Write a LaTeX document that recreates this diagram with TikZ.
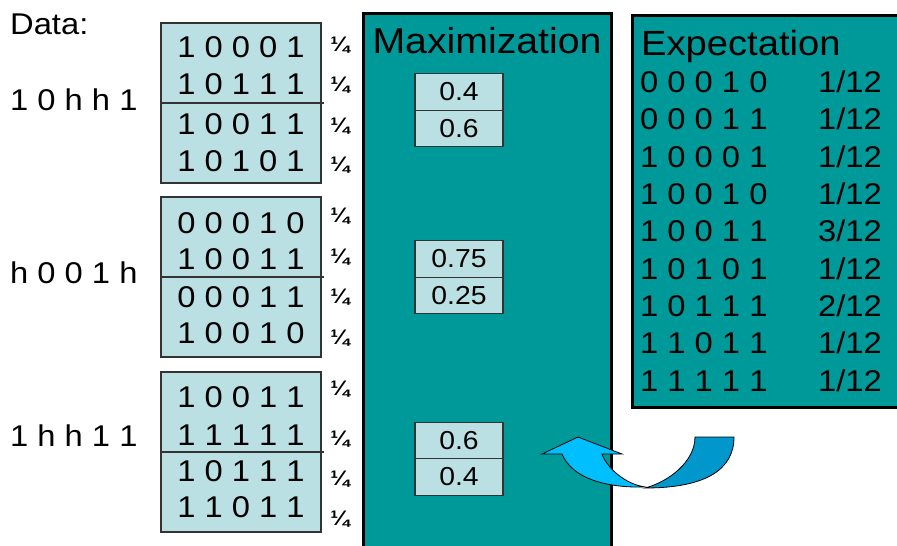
\documentclass[tikz,border=0pt]{standalone}
\usepackage{fontspec}
\setmainfont{Liberation Sans}[FakeStretch=1.09]
\usepackage{tikz}
\usepackage{xcolor}

\definecolor{panelteal}{HTML}{009999}
\definecolor{cellblue}{HTML}{BBE0E3}
\definecolor{arrowlight}{HTML}{00BFFF}
\definecolor{arrowdark}{HTML}{0097CC}

\tikzset{
  databox/.style={rectangle, draw=black!80, line width=1.2pt, fill=cellblue,
    minimum width=160pt, minimum height=160pt, inner sep=0pt},
  probcell/.style={rectangle, draw=black!80, line width=1.2pt, fill=cellblue,
    minimum width=88pt, minimum height=36.5pt, inner sep=0pt,
    font=\fontsize{26}{28}\selectfont},
  row/.style={inner sep=0pt, font=\fontsize{30}{32}\selectfont},
  quarter/.style={inner sep=0pt, font=\fontsize{21}{22}\selectfont\bfseries},
  label/.style={inner sep=0pt, anchor=west, font=\fontsize{30}{32}\selectfont},
  title/.style={inner sep=0pt, anchor=base, font=\fontsize{36}{38}\selectfont},
  expect/.style={inner sep=0pt, font=\fontsize{30}{32}\selectfont},
  panel/.style={draw=black, line width=3pt, fill=panelteal},
}

\begin{document}
\begin{tikzpicture}[x=1pt, y=-1pt]
  \clip (0,0) rectangle (897,546);

  % data and completions
  \node[label] (data) at (10,24) {Data:};
  \node[label] (d1) at (10,100) {1 0 h h 1};
  \node[label] (d2) at (10,273) {h 0 0 1 h};
  \node[label] (d3) at (10,436) {1 h h 1 1};

  \node[databox] (box1) at (241,103) {};
  \node[databox] (box2) at (241,277) {};
  \node[databox] (box3) at (241,452) {};
  \draw[line width=1.2pt, black!80] (box1.west) -- ([xshift=2pt]box1.east);
  \draw[line width=1.2pt, black!80] (box2.west) -- ([xshift=2pt]box2.east);
  \draw[line width=1.2pt, black!80] (box3.west) -- ([xshift=2pt]box3.east);

  \node[row] (r11) at (241,47.5)  {1 0 0 0 1};
  \node[row] (r12) at (241,84)    {1 0 1 1 1};
  \node[row] (r13) at (241,124)   {1 0 0 1 1};
  \node[row] (r14) at (241,161)   {1 0 1 0 1};
  \node[row] (r21) at (241,223)   {0 0 0 1 0};
  \node[row] (r22) at (241,259)   {1 0 0 1 1};
  \node[row] (r23) at (241,297.5) {0 0 0 1 1};
  \node[row] (r24) at (241,333)   {1 0 0 1 0};
  \node[row] (r31) at (241,397)   {1 0 0 1 1};
  \node[row] (r32) at (241,435)   {1 1 1 1 1};
  \node[row] (r33) at (241,471)   {1 0 1 1 1};
  \node[row] (r34) at (241,507)   {1 1 0 1 1};

  \node[quarter] (q11) at (340,45)  {¼};
  \node[quarter] (q12) at (340,85)  {¼};
  \node[quarter] (q13) at (340,126) {¼};
  \node[quarter] (q14) at (340,165) {¼};
  \node[quarter] (q21) at (340,216) {¼};
  \node[quarter] (q22) at (340,257) {¼};
  \node[quarter] (q23) at (340,297) {¼};
  \node[quarter] (q24) at (340,338) {¼};
  \node[quarter] (q31) at (340,389) {¼};
  \node[quarter] (q32) at (340,439) {¼};
  \node[quarter] (q33) at (340,479) {¼};
  \node[quarter] (q34) at (340,519) {¼};

  % maximization panel
  \draw[panel] (363,13) rectangle (611,570);
  \node[title] (maxi) at (487,53) {Maximization};
  \node[probcell] (p11) at (459,92)    {0.4};
  \node[probcell] (p12) at (459,128.5) {0.6};
  \node[probcell] (p21) at (459,259)   {0.75};
  \node[probcell] (p22) at (459,295.5) {0.25};
  \node[probcell] (p31) at (459,440.5) {0.6};
  \node[probcell] (p32) at (459,477)   {0.4};

  % expectation panel
  \draw[panel] (632,15) rectangle (910,407);
  \node[title, anchor=base west, font=\fontsize{35}{37}\selectfont] (expt) at (641,55) {Expectation};
  \node[expect, anchor=base west] (e1) at (640,92)    {0 0 0 1 0};
  \node[expect, anchor=base west] (e2) at (640,129.5) {0 0 0 1 1};
  \node[expect, anchor=base west] (e3) at (640,167)   {1 0 0 0 1};
  \node[expect, anchor=base west] (e4) at (640,204)   {1 0 0 1 0};
  \node[expect, anchor=base west] (e5) at (640,241.5) {1 0 0 1 1};
  \node[expect, anchor=base west] (e6) at (640,279)   {1 0 1 0 1};
  \node[expect, anchor=base west] (e7) at (640,316)   {1 0 1 1 1};
  \node[expect, anchor=base west] (e8) at (640,353.5) {1 1 0 1 1};
  \node[expect, anchor=base west] (e9) at (640,391)   {1 1 1 1 1};
  \node[expect, anchor=base east] (w1) at (882,92)    {1/12};
  \node[expect, anchor=base east] (w2) at (882,129.5) {1/12};
  \node[expect, anchor=base east] (w3) at (882,167)   {1/12};
  \node[expect, anchor=base east] (w4) at (882,204)   {1/12};
  \node[expect, anchor=base east] (w5) at (882,241.5) {3/12};
  \node[expect, anchor=base east] (w6) at (882,279)   {1/12};
  \node[expect, anchor=base east] (w7) at (882,316)   {2/12};
  \node[expect, anchor=base east] (w8) at (882,353.5) {1/12};
  \node[expect, anchor=base east] (w9) at (882,391)   {1/12};

  % curved arrow back to maximization
  \filldraw[fill=arrowdark, draw=black, line width=0.8pt]
    (695,437) -- (734,437) .. controls (734,470) and (705,488) .. (645,488)
    .. controls (668,482) and (695,462) .. cycle;
  \filldraw[fill=arrowlight, draw=black, line width=0.8pt]
    (542,454) -- (578,437) -- (622,454) -- (602,454)
    .. controls (607,468) and (625,484) .. (645,487)
    .. controls (605,488) and (572,478) .. (562,454) -- cycle;
\end{tikzpicture}
\end{document}
